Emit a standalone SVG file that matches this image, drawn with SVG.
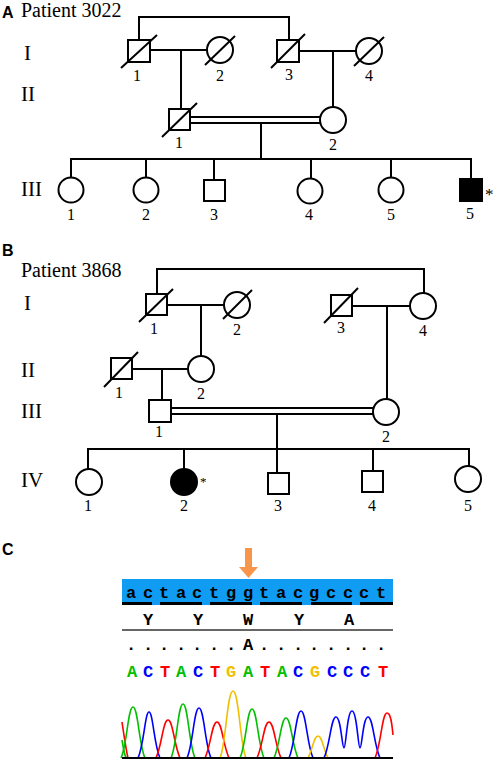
<svg xmlns="http://www.w3.org/2000/svg" width="497" height="761" viewBox="0 0 497 761">
<style>
.s{fill:#fff;stroke:#000;stroke-width:2}
.f{fill:#000;stroke:#000;stroke-width:2}
.d{stroke:#000;stroke-width:2;fill:none}
.c{stroke:#000;stroke-width:2;fill:none}
.t{font-family:"Liberation Serif","Times New Roman",serif;fill:#000}
.n{font-family:"Liberation Serif","Times New Roman",serif;font-size:16px;text-anchor:middle;fill:#000}
.g{font-family:"Liberation Serif","Times New Roman",serif;font-size:21px;fill:#000}
.p{font-family:"Liberation Sans",Arial,sans-serif;font-weight:bold;font-size:16px;fill:#000}
.m{font-family:"Liberation Mono","Courier New",monospace;font-size:17px;font-weight:bold;text-anchor:middle}
.pk{fill:none;stroke-width:1.6}
</style>
<rect width="497" height="761" fill="#fff"/>

<!-- Panel A -->
<text class="p" x="2" y="18">A</text>
<text class="t" x="21" y="17" font-size="20">Patient 3022</text>
<text class="g" x="24" y="60">I</text>
<text class="g" x="21" y="101">II</text>
<text class="g" x="21" y="196">III</text>

<g id="connectors-A">
<polyline class="c" points="139,40 139,17 289,17 289,40"/>
<line class="c" x1="150" y1="50" x2="207" y2="50"/>
<line class="c" x1="181" y1="50" x2="181" y2="109"/>
<line class="c" x1="299" y1="51" x2="356" y2="51"/>
<line class="c" x1="333" y1="51" x2="333" y2="107"/>
<line class="c" x1="190" y1="117" x2="320" y2="117"/>
<line class="c" x1="190" y1="123" x2="320" y2="123"/>
<line class="c" x1="261" y1="123" x2="261" y2="159"/>
<line class="c" x1="70" y1="159" x2="472" y2="159"/>
<line class="c" x1="71" y1="159" x2="71" y2="177"/>
<line class="c" x1="146" y1="159" x2="146" y2="177"/>
<line class="c" x1="214" y1="159" x2="214" y2="180"/>
<line class="c" x1="311" y1="159" x2="311" y2="178"/>
<line class="c" x1="391" y1="159" x2="391" y2="177"/>
<line class="c" x1="471" y1="159" x2="471" y2="179"/>
</g>

<g id="A-I-1"><rect class="s" x="128" y="40" width="22" height="22"/><line class="d" x1="121" y1="68" x2="157" y2="35"/><text class="n" x="137" y="81">1</text></g>
<g id="A-I-2"><circle class="s" cx="220" cy="50" r="13"/><line class="d" x1="205" y1="65" x2="235" y2="36"/><text class="n" x="220" y="81">2</text></g>
<g id="A-I-3"><rect class="s" x="277" y="40" width="22" height="22"/><line class="d" x1="271" y1="68" x2="305" y2="34"/><text class="n" x="289" y="80">3</text></g>
<g id="A-I-4"><circle class="s" cx="369" cy="51" r="13"/><line class="d" x1="354" y1="66" x2="384" y2="37"/><text class="n" x="369" y="81">4</text></g>
<g id="A-II-1"><rect class="s" x="169" y="109" width="21" height="21"/><line class="d" x1="162" y1="137" x2="197" y2="103"/><text class="n" x="179" y="148">1</text></g>
<g id="A-II-2"><circle class="s" cx="333" cy="120" r="13"/><text class="n" x="333" y="150">2</text></g>
<g id="A-III-1"><circle class="s" cx="71" cy="190" r="12.5"/><text class="n" x="71" y="220">1</text></g>
<g id="A-III-2"><circle class="s" cx="146" cy="190" r="12.5"/><text class="n" x="146" y="220">2</text></g>
<g id="A-III-3"><rect class="s" x="204" y="180" width="21" height="21"/><text class="n" x="214" y="220">3</text></g>
<g id="A-III-4"><circle class="s" cx="310" cy="191" r="12.5"/><text class="n" x="309" y="220">4</text></g>
<g id="A-III-5"><circle class="s" cx="391" cy="190" r="12.5"/><text class="n" x="391" y="220">5</text></g>
<g id="A-III-6"><rect class="f" x="460" y="179" width="22" height="22"/><text class="n" x="470" y="219">5</text><text class="t" x="485" y="200" font-size="17">*</text></g>

<!-- Panel B -->
<text class="p" x="2" y="256">B</text>
<text class="t" x="21" y="277" font-size="20">Patient 3868</text>
<text class="g" x="24" y="310">I</text>
<text class="g" x="21" y="377">II</text>
<text class="g" x="21" y="418">III</text>
<text class="g" x="21" y="487">IV</text>

<g id="connectors-B">
<polyline class="c" points="157,294 157,269 424,269 424,293"/>
<line class="c" x1="167" y1="305" x2="224" y2="305"/>
<line class="c" x1="201" y1="305" x2="201" y2="356"/>
<line class="c" x1="352" y1="306" x2="410" y2="306"/>
<line class="c" x1="387" y1="306" x2="387" y2="399"/>
<line class="c" x1="132" y1="369" x2="188" y2="369"/>
<line class="c" x1="162" y1="369" x2="162" y2="400"/>
<line class="c" x1="171" y1="408" x2="374" y2="408"/>
<line class="c" x1="171" y1="414" x2="374" y2="414"/>
<line class="c" x1="277" y1="414" x2="277" y2="449"/>
<line class="c" x1="87" y1="449" x2="470" y2="449"/>
<line class="c" x1="88" y1="449" x2="88" y2="469"/>
<line class="c" x1="184" y1="449" x2="184" y2="469"/>
<line class="c" x1="277" y1="449" x2="277" y2="473"/>
<line class="c" x1="373" y1="449" x2="373" y2="471"/>
<line class="c" x1="469" y1="449" x2="469" y2="466"/>
</g>

<g id="B-I-1"><rect class="s" x="146" y="294" width="21" height="21"/><line class="d" x1="139" y1="322" x2="173" y2="289"/><text class="n" x="154" y="334">1</text></g>
<g id="B-I-2"><circle class="s" cx="237" cy="305" r="13"/><line class="d" x1="223" y1="319" x2="252" y2="290"/><text class="n" x="237" y="335">2</text></g>
<g id="B-I-3"><rect class="s" x="331" y="295" width="21" height="21"/><line class="d" x1="324" y1="323" x2="358" y2="288"/><text class="n" x="341" y="333">3</text></g>
<g id="B-I-4"><circle class="s" cx="423" cy="306" r="13"/><text class="n" x="423" y="336">4</text></g>
<g id="B-II-1"><rect class="s" x="111" y="358" width="21" height="21"/><line class="d" x1="104" y1="387" x2="138" y2="352"/><text class="n" x="119" y="398">1</text></g>
<g id="B-II-2"><circle class="s" cx="201" cy="369" r="13"/><text class="n" x="201" y="399">2</text></g>
<g id="B-III-1"><rect class="s" x="149" y="400" width="22" height="22"/><text class="n" x="159" y="437">1</text></g>
<g id="B-III-2"><circle class="s" cx="386" cy="412" r="13"/><text class="n" x="386" y="442">2</text></g>
<g id="B-IV-1"><circle class="s" cx="89" cy="482" r="13"/><text class="n" x="88" y="511">1</text></g>
<g id="B-IV-2"><circle class="f" cx="184" cy="482" r="13"/><text class="n" x="184" y="511">2</text><text class="t" x="200" y="486" font-size="13">*</text></g>
<g id="B-IV-3"><rect class="s" x="268" y="473" width="21" height="21"/><text class="n" x="278" y="511">3</text></g>
<g id="B-IV-4"><rect class="s" x="362" y="471" width="21" height="21"/><text class="n" x="372" y="511">4</text></g>
<g id="B-IV-5"><circle class="s" cx="468" cy="479" r="13"/><text class="n" x="468" y="511">5</text></g>

<!-- Panel C -->
<text class="p" x="2" y="555">C</text>
<g id="arrow">
<rect x="245" y="548" width="7" height="20" fill="#f7964a"/>
<polygon points="239,567 258,567 248.5,578" fill="#f7964a"/>
</g>
<rect x="122" y="579" width="271" height="26" fill="#0f9cf2"/>
<g fill="#000">
<rect x="122" y="602" width="30" height="3"/>
<rect x="160" y="602" width="42" height="3"/>
<rect x="210" y="602" width="42" height="3"/>
<rect x="260" y="602" width="42" height="3"/>
<rect x="311" y="602" width="41" height="3"/>
<rect x="360" y="602" width="33" height="3"/>
</g>
<text class="m" fill="#000" y="598" x="131 148 164 181 197 214 231 248 264 281 298 314 331 348 364 381">actactggtacgccct</text>
<text class="m" fill="#000" y="625" x="148 198 248 299 349">YYWYA</text>
<line x1="122" y1="630" x2="393" y2="630" stroke="#333" stroke-width="1.5"/>
<text class="m" fill="#000" y="650" x="131 148 164 181 197 214 231 248 264 281 298 314 331 348 364 381">.......A........</text>
<g class="m">
<text x="132" y="677" fill="#00c000">A</text>
<text x="148" y="677" fill="#0000ff">C</text>
<text x="165" y="677" fill="#ff0000">T</text>
<text x="181" y="677" fill="#00c000">A</text>
<text x="198" y="677" fill="#0000ff">C</text>
<text x="215" y="677" fill="#ff0000">T</text>
<text x="231" y="677" fill="#f0c000">G</text>
<text x="248" y="677" fill="#00c000">A</text>
<text x="265" y="677" fill="#ff0000">T</text>
<text x="282" y="677" fill="#00c000">A</text>
<text x="298" y="677" fill="#0000ff">C</text>
<text x="315" y="677" fill="#f0c000">G</text>
<text x="332" y="677" fill="#0000ff">C</text>
<text x="348" y="677" fill="#0000ff">C</text>
<text x="365" y="677" fill="#0000ff">C</text>
<text x="383" y="677" fill="#ff0000">T</text>
</g>
<g id="chromatogram">
<path class="pk" stroke="#ff0000" d="M122,722 C124,735 126,750 128,758"/>
<path class="pk" stroke="#00c000" d="M122,740 C124,752 125,758 127,758"/>
<path class="pk" stroke="#00c000" d="M121,758 C127,745 128,707 133,707 C138,707 139,745 145,758"/>
<path class="pk" stroke="#0000ff" d="M138,758 C144,745 145,712 149,712 C153,712 154,745 160,758"/>
<path class="pk" stroke="#ff0000" d="M156,758 C162,745 163,720 168,720 C173,720 174,745 180,758"/>
<path class="pk" stroke="#00c000" d="M171,758 C177,745 178,704 183,704 C188,704 189,745 195,758"/>
<path class="pk" stroke="#0000ff" d="M187,758 C193,745 194,708 199,708 C204,708 205,745 211,758"/>
<path class="pk" stroke="#ff0000" d="M205,758 C211,745 212,722 217,722 C222,722 223,745 229,758"/>
<path class="pk" stroke="#f0c000" d="M220,758 C226,745 227,691 233,691 C239,691 240,745 246,758"/>
<path class="pk" stroke="#00c000" d="M240,758 C246,745 247,709 252,709 C257,709 258,745 264,758"/>
<path class="pk" stroke="#ff0000" d="M257,758 C263,745 264,722 269,722 C274,722 275,745 281,758"/>
<path class="pk" stroke="#00c000" d="M274,758 C280,745 281,718 286,718 C291,718 292,745 298,758"/>
<path class="pk" stroke="#0000ff" d="M289,758 C295,745 296,711 301,711 C306,711 307,745 313,758"/>
<path class="pk" stroke="#f0c000" d="M308,758 C313,748 314,736 318,736 C322,736 323,748 328,758"/>
<path class="pk" stroke="#0000ff" d="M324,758 C330,745 331,717 336,717 C341,717 342,748 344,748 C346,748 347,711 352,711 C357,711 358,748 360,748 C362,748 363,717 368,717 C373,717 374,745 380,758"/>
<path class="pk" stroke="#ff0000" d="M375,758 C381,745 382,713 387,713 C391,713 392,725 393,735"/>
<line x1="122" y1="758" x2="393" y2="758" stroke="#000" stroke-width="2"/>
</g>
</svg>
